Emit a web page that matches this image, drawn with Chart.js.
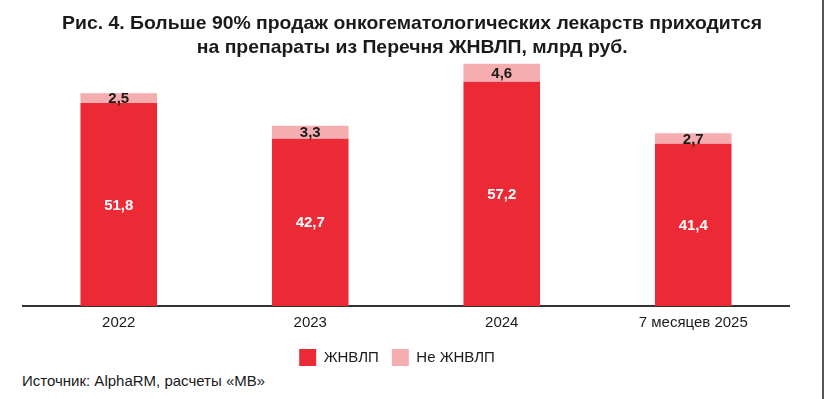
<!DOCTYPE html>
<html>
<head>
<meta charset="utf-8">
<script src="https://cdn.jsdelivr.net/npm/chart.js@4"></script>
<style>
  body { margin: 0; background: #fff; }
  #wrap { position: relative; width: 825px; height: 399px; overflow: hidden; }
  #title { position: absolute; left: 0; top: 11px; width: 825px; text-align: center;
    font-family: "Liberation Sans", Arial, sans-serif; font-weight: bold;
    font-size: 19px; line-height: 24px; color: #1a1a1a; }
  #title span { display: inline-block; transform-origin: center; white-space: nowrap; }
  #box { position: absolute; left: 0; top: 0; width: 825px; height: 372px; }
  #src { position: absolute; left: 22px; top: 372px; font-family: "Liberation Sans", Arial, sans-serif;
    font-size: 15px; color: #1a1a1a; }
  #edge { position: absolute; left: 822px; top: 0; width: 2px; height: 399px; background: #555; }
</style>
</head>
<body>
<div id="wrap">
  <div id="box"><canvas id="c"></canvas></div>
  <div id="title"><span id="t1">Рис. 4. Больше 90% продаж онкогематологических лекарств приходится</span><br><span id="t2">на препараты из Перечня ЖНВЛП, млрд руб.</span></div>
  <div id="src">Источник: AlphaRM, расчеты «МВ»</div>
  <div id="edge"></div>
</div>
<script>
const labels = ['2022', '2023', '2024', '7 месяцев 2025']
const zhnvlp = [51.8, 42.7, 57.2, 41.4]
const notZhnvlp = [2.5, 3.3, 4.6, 2.7]

// подгоняем ширину первой строки заголовка (~700px)
const t1 = document.getElementById('t1')
const sx = 700 / t1.getBoundingClientRect().width
t1.style.transform = 'scaleX(' + sx + ')'
document.getElementById('t2').style.transform = 'scaleX(' + sx + ')'

const fmt = v => v.toFixed(1).replace('.', ',')

// подписи значений внутри сегментов
const valueLabels = {
  id: 'valueLabels',
  afterDatasetsDraw(chart) {
    const ctx = chart.ctx
    ctx.save()
    ctx.textAlign = 'center'
    ctx.textBaseline = 'middle'
    chart.data.datasets.forEach((ds, i) => {
      chart.getDatasetMeta(i).data.forEach((bar, j) => {
        const mid = (bar.y + bar.base) / 2
        ctx.fillStyle = i === 0 ? '#ffffff' : '#1a1a1a'
        ctx.font = 'bold 15px "Liberation Sans", Arial, sans-serif'
        ctx.fillText(fmt(ds.data[j]), bar.x, mid + 1)
      })
    })
    ctx.restore()
  }
}

// легенда в оригинале чуть левее центра и чуть ниже
const shiftLegend = {
  id: 'shiftLegend',
  afterLayout(chart) {
    chart.legend.left -= 9
    chart.legend.right -= 9
    chart.legend.top += 4
    chart.legend.bottom += 4
  }
}

new Chart(document.getElementById('c'), {
  type: 'bar',
  data: {
    labels: labels,
    datasets: [
      { label: 'ЖНВЛП', data: zhnvlp, backgroundColor: '#ec2a36', categoryPercentage: 1, barPercentage: 0.4 },
      { label: 'Не ЖНВЛП', data: notZhnvlp, backgroundColor: '#f5adb0', categoryPercentage: 1, barPercentage: 0.4 }
    ]
  },
  options: {
    responsive: true,
    maintainAspectRatio: false,
    animation: false,
    layout: { padding: { top: 63, left: 23, right: 36, bottom: 0 } },
    scales: {
      x: {
        stacked: true,
        grid: { display: false },
        border: { display: true, color: '#333', width: 2 },
        ticks: { color: '#1a1a1a', font: { family: '"Liberation Sans", Arial, sans-serif', size: 15 }, padding: 0 }
      },
      y: { stacked: true, display: false, min: 0, max: 62 }
    },
    plugins: {
      legend: {
        position: 'bottom',
        labels: {
          boxWidth: 17, boxHeight: 17, padding: 13, color: '#1a1a1a',
          font: { family: '"Liberation Sans", Arial, sans-serif', size: 15 }
        }
      },
      tooltip: { enabled: false }
    }
  },
  plugins: [valueLabels, shiftLegend]
})
</script>
</body>
</html>
